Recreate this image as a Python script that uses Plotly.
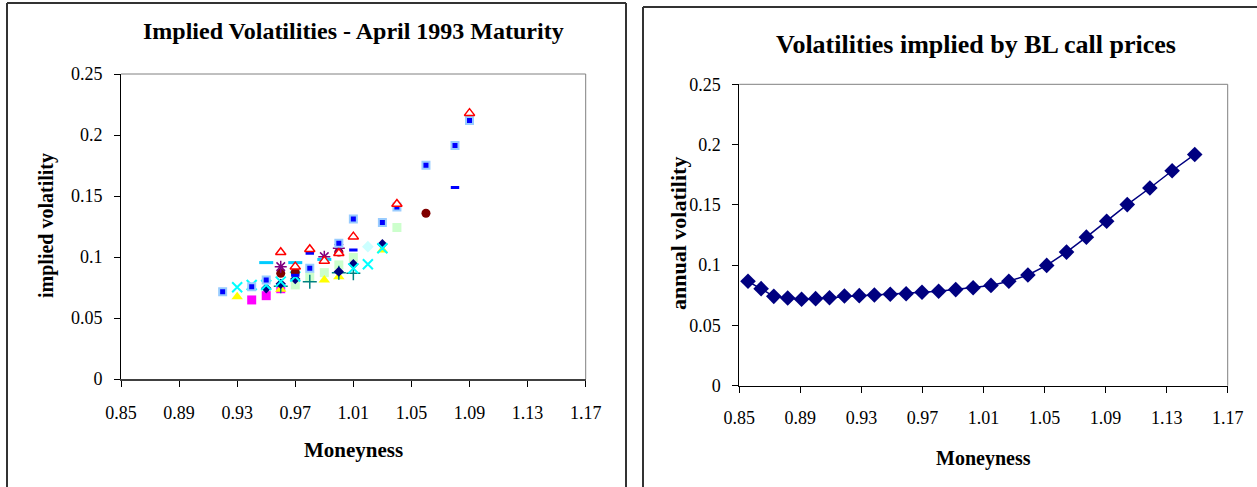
import plotly.graph_objects as go

W, H = 1257, 487

# ---------------- Left chart data (implied volatilities, April 1993 maturity) ----------------
sq_blue_x = [0.92, 0.94, 0.95, 0.98, 1.00, 1.01, 1.03, 1.04, 1.06, 1.08, 1.09]
sq_blue_y = [0.0716, 0.0757, 0.0812, 0.0907, 0.1112, 0.1311, 0.1282, 0.1410, 0.1752, 0.1913, 0.2118]

tri_red_x = [0.96, 0.97, 0.98, 0.99, 1.00, 1.01, 1.04, 1.09]
tri_red_y = [0.1039, 0.0921, 0.1063, 0.0968, 0.1031, 0.1167, 0.1435, 0.2179]

tri_yel_x = [0.93, 0.96, 0.99, 1.00, 1.03]
tri_yel_y = [0.0675, 0.0735, 0.0812, 0.0839, 0.1058]

sq_mag_x = [0.94, 0.95, 0.96]
sq_mag_y = [0.0648, 0.0683, 0.0740]

x_cyan_x = [0.93, 0.94, 0.95, 0.96, 0.97, 1.01, 1.02, 1.03]
x_cyan_y = [0.0752, 0.0770, 0.0770, 0.0798, 0.0840, 0.0907, 0.0940, 0.1072]

circ_dred_x = [0.96, 0.97, 1.00, 1.06]
circ_dred_y = [0.0866, 0.0875, 0.1040, 0.1359]

ast_purp_x = [0.96, 0.99, 1.00]
ast_purp_y = [0.0921, 0.1003, 0.1072]

sq_pgreen_x = [0.97, 0.98, 0.99, 1.00, 1.01, 1.04]
sq_pgreen_y = [0.0771, 0.0839, 0.0872, 0.0935, 0.0995, 0.1241]

dia_navy_x = [0.95, 0.96, 0.97, 1.00, 1.01, 1.03]
dia_navy_y = [0.0744, 0.0780, 0.0820, 0.0880, 0.0940, 0.1104]

plus_teal_x = [0.96, 0.98, 1.00, 1.01]
plus_teal_y = [0.0760, 0.0798, 0.0870, 0.0866]

dash_blue_x = [0.97, 0.98, 1.01, 1.08]
dash_blue_y = [0.0850, 0.1030, 0.1058, 0.1570]

dash_cyan_x = [0.95, 0.97, 0.99]
dash_cyan_y = [0.0954, 0.0954, 0.0980]

dia_lcyan_x = [1.02]
dia_lcyan_y = [0.1085]

# ---------------- Right chart data (volatilities implied by BL call prices) ----------------
bl_x = [0.8557, 0.8643, 0.8726, 0.8817, 0.8908, 0.9000, 0.9091, 0.9189, 0.9286,
        0.9385, 0.9489, 0.9593, 0.9697, 0.9806, 0.9918, 1.0032, 1.0149, 1.0266,
        1.0391, 1.0514, 1.0644, 1.0774, 1.0907, 1.1042, 1.1190, 1.1336, 1.1484]
bl_y = [0.0866, 0.0805, 0.0741, 0.0728, 0.0717, 0.0722, 0.0730, 0.0744, 0.0747,
        0.0752, 0.0758, 0.0763, 0.0775, 0.0783, 0.0797, 0.0813, 0.0832, 0.0866,
        0.0918, 0.0998, 0.1108, 0.1232, 0.1364, 0.1502, 0.1640, 0.1783, 0.1918]

x_ticks = [0.85, 0.89, 0.93, 0.97, 1.01, 1.05, 1.09, 1.13, 1.17]
x_tick_text = ["0.85", "0.89", "0.93", "0.97", "1.01", "1.05", "1.09", "1.13", "1.17"]
y_ticks = [0, 0.05, 0.1, 0.15, 0.2, 0.25]
y_tick_text = ["0", "0.05", "0.1", "0.15", "0.2", "0.25"]

SERIF = "Liberation Serif, Times New Roman, serif"


def px_x(p):
    return p / W


def px_y(p):
    return 1 - p / H


fig = go.Figure()


def add_left(x, y, symbol, color, size, line_color=None, line_width=0):
    fig.add_trace(go.Scatter(
        x=x, y=y, mode="markers", xaxis="x", yaxis="y", showlegend=False,
        marker=dict(symbol=symbol, color=color, size=size,
                    line=dict(color=line_color or color, width=line_width)),
        hoverinfo="x+y"))


add_left(sq_pgreen_x, sq_pgreen_y, "square", "#ccffcc", 9)
add_left(sq_mag_x, sq_mag_y, "square", "#ff00ff", 9)
add_left(tri_yel_x, tri_yel_y, "triangle-up", "#ffff00", 10)
add_left(plus_teal_x, plus_teal_y, "cross-thin-open", "#008080", 10, "#008080", 1.5)
add_left(dia_navy_x, dia_navy_y, "diamond", "#000080", 8)
add_left(x_cyan_x, x_cyan_y, "x-thin-open", "#00ffff", 10, "#00ffff", 2)
add_left(circ_dred_x, circ_dred_y, "circle", "#800000", 9)
add_left(ast_purp_x, ast_purp_y, "asterisk-open", "#800080", 10, "#800080", 1.5)
add_left(dash_cyan_x, dash_cyan_y, "line-ew-open", "#00ccff", 10, "#00ccff", 3)
add_left(dash_blue_x, dash_blue_y, "line-ew-open", "#0000ff", 6, "#0000ff", 3)
add_left(dia_lcyan_x, dia_lcyan_y, "diamond", "#ccffff", 9)
add_left(sq_blue_x, sq_blue_y, "square", "#0000ff", 7, "#99ccff", 2)
add_left(tri_red_x, tri_red_y, "triangle-up", "#ffffff", 9, "#ff0000", 1.5)

fig.add_trace(go.Scatter(
    x=bl_x, y=bl_y, mode="lines+markers", xaxis="x2", yaxis="y2", showlegend=False,
    line=dict(color="#000080", width=1.5),
    marker=dict(symbol="diamond", color="#000080", size=12)))

axis_common = dict(
    showgrid=False, zeroline=False, showline=True, ticks="outside",
    ticklen=6, tickwidth=1, tickcolor="black", automargin=False,
    tickfont=dict(family=SERIF, size=18, color="black"),
)

fig.update_layout(
    template="none",
    width=W, height=H, autosize=False,
    margin=dict(l=0, r=0, t=0, b=0, pad=0),
    paper_bgcolor="white", plot_bgcolor="white",
    xaxis=dict(axis_common, domain=[px_x(121), px_x(585.7)], range=[0.85, 1.17],
               tickvals=x_ticks, ticktext=x_tick_text, linecolor="#404040", linewidth=2,
               anchor="y", ticklabelstandoff=10),
    yaxis=dict(axis_common, domain=[px_y(379), px_y(74)], range=[0, 0.25],
               tickvals=y_ticks, ticktext=y_tick_text, linecolor="black", linewidth=1,
               anchor="x", ticklabelstandoff=8),
    xaxis2=dict(axis_common, domain=[px_x(739.3), px_x(1227.7)], range=[0.85, 1.17],
                tickvals=x_ticks, ticktext=x_tick_text, linecolor="black", linewidth=1,
                anchor="y2", ticklabelstandoff=10),
    yaxis2=dict(axis_common, domain=[px_y(385.7), px_y(84.3)], range=[0, 0.25],
                tickvals=y_ticks, ticktext=y_tick_text, linecolor="black", linewidth=1,
                anchor="x2", ticklabelstandoff=8),
)

# plot-area top/right borders (gray)
for xr, yr in (("x", "y"), ("x2", "y2")):
    fig.add_shape(type="line", xref=f"{xr} domain", yref=f"{yr} domain",
                  x0=0, x1=1, y0=1, y1=1, line=dict(color="#808080", width=1))
    fig.add_shape(type="line", xref=f"{xr} domain", yref=f"{yr} domain",
                  x0=1, x1=1, y0=0, y1=1, line=dict(color="#808080", width=1))

# outer chart frames (left, top, right edges of the left box; left, top of the right box)
frame = dict(color="#333333", width=2)
fig.add_shape(type="line", xref="paper", yref="paper",
              x0=px_x(7), x1=px_x(7), y0=0, y1=px_y(3), line=frame)
fig.add_shape(type="line", xref="paper", yref="paper",
              x0=px_x(7), x1=px_x(626), y0=px_y(3), y1=px_y(3), line=frame)
fig.add_shape(type="line", xref="paper", yref="paper",
              x0=px_x(626), x1=px_x(626), y0=0, y1=px_y(3), line=frame)
fig.add_shape(type="line", xref="paper", yref="paper",
              x0=px_x(643), x1=px_x(643), y0=0, y1=px_y(7), line=frame)
fig.add_shape(type="line", xref="paper", yref="paper",
              x0=px_x(643), x1=1, y0=px_y(7), y1=px_y(7), line=frame)

# titles
ann = dict(xref="paper", yref="paper", showarrow=False, xanchor="center", yanchor="middle")
fig.add_annotation(text="<b>Implied Volatilities - April 1993 Maturity</b>",
                   x=px_x(353), y=px_y(31), font=dict(family=SERIF, size=24, color="black"), **ann)
fig.add_annotation(text="<b>Volatilities implied by BL call prices</b>",
                   x=px_x(976), y=px_y(45), font=dict(family=SERIF, size=26, color="black"), **ann)
# axis titles
fig.add_annotation(text="<b>implied volatility</b>", textangle=-90,
                   x=px_x(46), y=px_y(226), font=dict(family=SERIF, size=20, color="black"), **ann)
fig.add_annotation(text="<b>annual volatility</b>", textangle=-90,
                   x=px_x(678), y=px_y(234), font=dict(family=SERIF, size=22, color="black"), **ann)
fig.add_annotation(text="<b>Moneyness</b>",
                   x=px_x(353), y=px_y(450), font=dict(family=SERIF, size=21, color="black"), **ann)
fig.add_annotation(text="<b>Moneyness</b>",
                   x=px_x(983), y=px_y(458), font=dict(family=SERIF, size=20, color="black"), **ann)

fig.write_html("out.html")
